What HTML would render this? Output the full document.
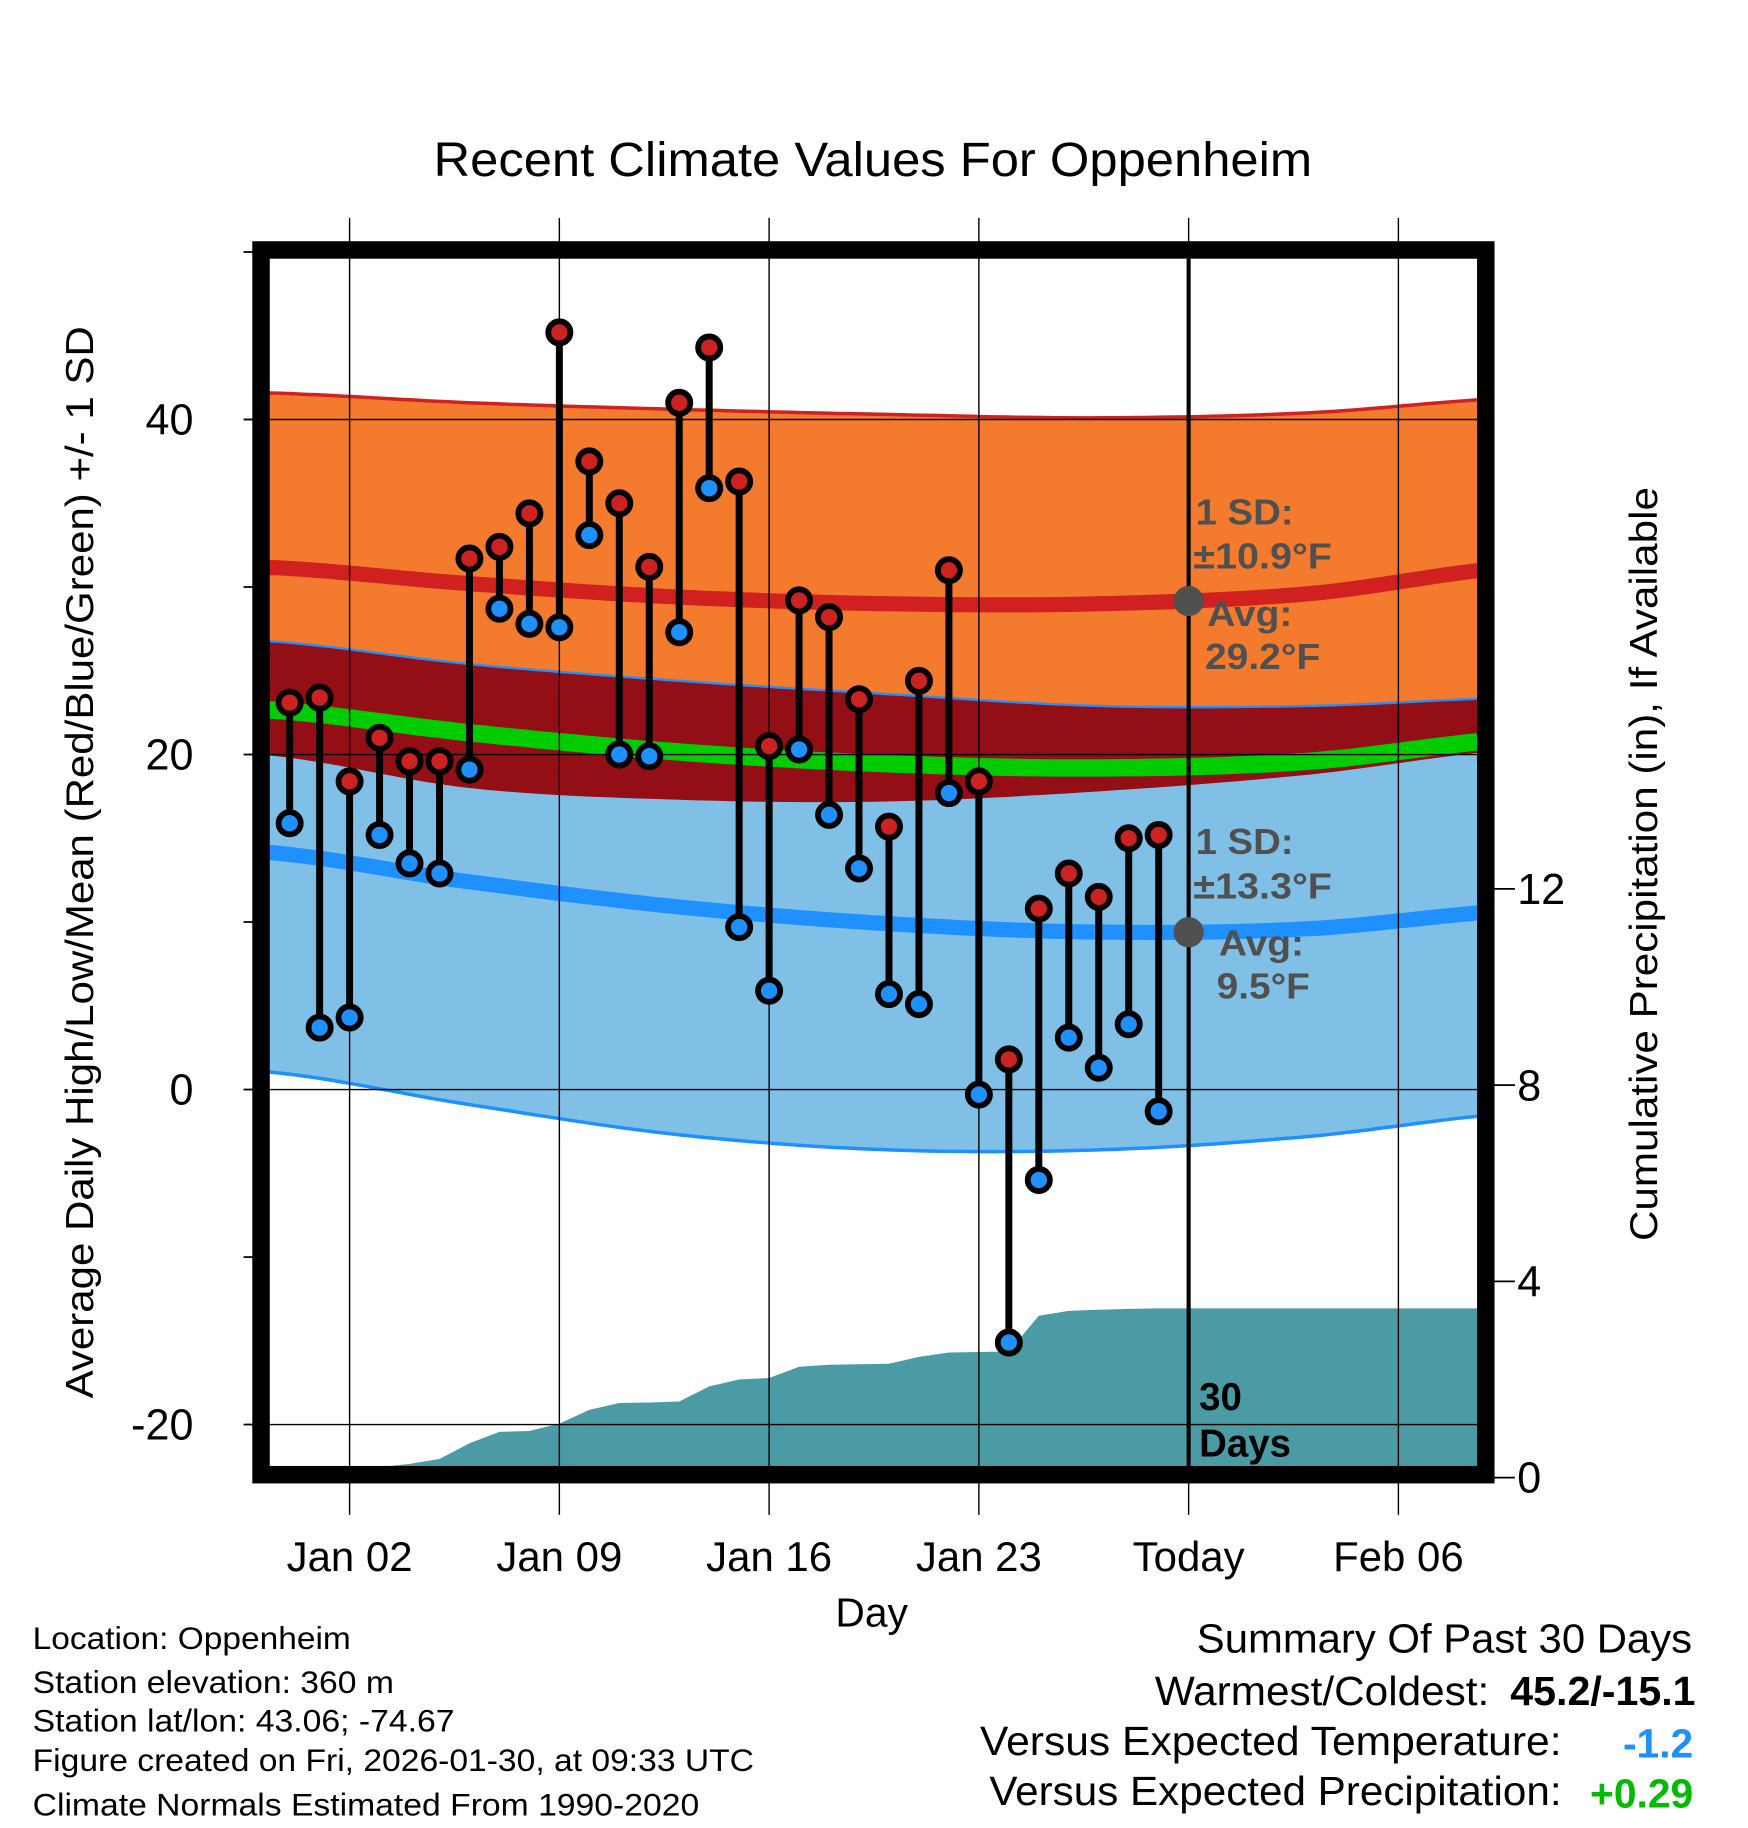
<!DOCTYPE html>
<html><head><meta charset="utf-8"><title>Recent Climate Values For Oppenheim</title>
<style>html,body{margin:0;padding:0;background:#fff}svg{display:block}text{font-family:"Liberation Sans",Arial,sans-serif}</style>
</head><body>
<svg id="chart" width="1748" height="1828" viewBox="0 0 1500 1568.7" preserveAspectRatio="none" xmlns="http://www.w3.org/2000/svg">
<rect width="1500" height="1568.7" fill="#fff"/>
<g id="bands"></g>
<g id="precip"></g>
<g id="grid"></g>
<g id="annot"></g>
<g id="series"></g>
<rect x="224" y="214.5" width="1051" height="1051" fill="none" stroke="#000" stroke-width="15"/>
<g id="axes"></g>
<text x="372" y="151" font-size="41" textLength="754" lengthAdjust="spacingAndGlyphs">Recent Climate Values For Oppenheim</text>
<text transform="translate(80,1200) rotate(-90)" font-size="33" textLength="920" lengthAdjust="spacingAndGlyphs">Average Daily High/Low/Mean (Red/Blue/Green) +/- 1 SD</text>
<text transform="translate(1422,1065) rotate(-90)" font-size="33" textLength="647" lengthAdjust="spacingAndGlyphs">Cumulative Precipitation (in), If Available</text>
<text x="748" y="1396" font-size="35" text-anchor="middle">Day</text>
<g font-size="27">
<text x="28" y="1415" textLength="273" lengthAdjust="spacingAndGlyphs">Location: Oppenheim</text>
<text x="28" y="1453" textLength="310" lengthAdjust="spacingAndGlyphs">Station elevation: 360 m</text>
<text x="28" y="1486" textLength="362" lengthAdjust="spacingAndGlyphs">Station lat/lon: 43.06; -74.67</text>
<text x="28" y="1520" textLength="619" lengthAdjust="spacingAndGlyphs">Figure created on Fri, 2026-01-30, at 09:33 UTC</text>
<text x="28" y="1558" textLength="572" lengthAdjust="spacingAndGlyphs">Climate Normals Estimated From 1990-2020</text>
</g>
<g font-size="35">
<text x="1027" y="1418" textLength="425" lengthAdjust="spacingAndGlyphs">Summary Of Past 30 Days</text>
<text x="991" y="1463" textLength="287" lengthAdjust="spacingAndGlyphs">Warmest/Coldest:</text>
<text x="1296" y="1463" font-weight="bold" textLength="159" lengthAdjust="spacingAndGlyphs">45.2/-15.1</text>
<text x="841" y="1506" textLength="499" lengthAdjust="spacingAndGlyphs">Versus Expected Temperature:</text>
<text x="1453" y="1508" font-weight="bold" fill="#1e90ff" text-anchor="end">-1.2</text>
<text x="849" y="1549" textLength="491" lengthAdjust="spacingAndGlyphs">Versus Expected Precipitation:</text>
<text x="1453" y="1551" font-weight="bold" fill="#00bb00" text-anchor="end">+0.29</text>
</g>
</svg>
<script>
// Days relative to Jan 01 (0). Observations start Dec 31 (-1).
const obsStartDay = -1;
const highs = [23.1,23.4,18.4,21.0,19.6,19.6,31.7,32.4,34.4,45.2,37.5,35.0,31.2,41.0,44.3,36.3,20.5,29.2,28.2,23.3,15.7,24.4,31.0,18.4,1.8,10.8,12.9,11.5,15.0,15.2];
const lows  = [15.9,3.7,4.3,15.2,13.5,12.9,19.1,28.7,27.8,27.6,33.1,20.0,19.9,27.3,35.9,9.7,5.9,20.3,16.4,13.2,5.7,5.1,17.7,-0.3,-15.1,-5.4,3.1,1.3,3.9,-1.3];
const precipCum = [0,0,0.05,0.15,0.28,0.38,0.7,0.93,0.95,1.1,1.38,1.52,1.53,1.55,1.86,2.0,2.03,2.26,2.3,2.31,2.32,2.46,2.55,2.56,2.57,3.3,3.4,3.42,3.44,3.45];
const normalDays = [-2,5,12,19,26,33,40];
const hiUpper = [41.6,41.0,40.6,40.3,40.1,40.4,41.3];
const hiMean  = [31.2,30.2,29.4,29.0,29.0,29.6,31.2];
const hiLower = [20.0,18.0,17.3,17.2,17.8,18.8,20.3];
const loUpper = [26.8,25.4,24.4,23.6,22.9,22.9,23.4];
const loMean  = [14.2,12.4,10.9,9.9,9.4,9.6,10.7];
const loLower = [1.1,-0.9,-2.7,-3.6,-3.6,-2.8,-1.4];
const yTicks = [40,20,0,-20];
const yMinorTicks = [50,30,10,-10];
const y2Ticks = [0,4,8,12];
const xTickDays = [1,8,15,22,29,36];
const xTickLabels = ["Jan 02","Jan 09","Jan 16","Jan 23","Today","Feb 06"];
const todayDay = 29;

const NS = "http://www.w3.org/2000/svg";
const L = 231, R = 1268, T = 222, B = 1259;
const xS = d => 300 + (d - 1) * 25.714;
const yS = v => 935 - v * 14.375;
const y2S = p => 1268 - p * 42.1;
const dMin = (L - 300) / 25.714 + 1, dMax = (R - 300) / 25.714 + 1;

function mk(tag, attrs, parent) {
  const e = document.createElementNS(NS, tag);
  for (const k in attrs) e.setAttribute(k, attrs[k]);
  parent.appendChild(e);
  return e;
}
function interp(arr, d) {
  let i = 0;
  while (i < normalDays.length - 2 && d > normalDays[i + 1]) i++;
  const t = (d - normalDays[i]) / (normalDays[i + 1] - normalDays[i]);
  const p0 = arr[Math.max(i - 1, 0)], p1 = arr[i], p2 = arr[i + 1], p3 = arr[Math.min(i + 2, arr.length - 1)];
  return 0.5 * ((2 * p1) + (-p0 + p2) * t + (2 * p0 - 5 * p1 + 4 * p2 - p3) * t * t + (-p0 + 3 * p1 - 3 * p2 + p3) * t * t * t);
}
function curve(fn) {
  const pts = [];
  for (let k = 0; k <= 100; k++) { const d = dMin + (dMax - dMin) * k / 100; pts.push([xS(d), yS(fn(d))]); }
  return pts;
}
const P = pts => pts.map(p => p[0].toFixed(1) + "," + p[1].toFixed(1)).join(" ");
function band(fU, fL, fill, name) {
  const up = curve(fU), lo = curve(fL).reverse();
  const e = mk("polygon", {points: P(up.concat(lo)), fill: fill}, document.getElementById("bands"));
  
  
}
function line(fn, stroke, w, name) {
  const e = mk("polyline", {points: P(curve(fn)), fill: "none", stroke: stroke, "stroke-width": w}, document.getElementById("bands"));
  
  
}
const fHU = d => interp(hiUpper, d), fHL = d => interp(hiLower, d), fHM = d => interp(hiMean, d);
const fLU = d => interp(loUpper, d), fLL = d => interp(loLower, d), fLM = d => interp(loMean, d);
band(fHU, fHL, "#f47a2e", "high-sd-band");
band(fLU, fLL, "#80c0e6", "low-sd-band");
band(d => Math.min(fHU(d), fLU(d)), d => Math.max(fHL(d), fLL(d)), "#930e15", "overlap-band");
line(d => (fHM(d) + fLM(d)) / 2, "#00cc00", 15, "mean-normal-line");
line(fHU, "#d02020", 3, "high-upper-line");
line(fLU, "#1e90ff", 2, "low-upper-line");
line(fLL, "#1e90ff", 3, "low-lower-line");
line(fHM, "#d02020", 13, "high-mean-line");
line(fLM, "#1e90ff", 13, "low-mean-line");

(function () {
  const g = document.getElementById("precip");
  const pts = [[L, B]];
  precipCum.forEach((p, i) => pts.push([xS(obsStartDay + i), Math.min(B, y2S(p))]));
  pts.push([R, Math.min(B, y2S(precipCum[precipCum.length - 1]))]);
  pts.push([R, B]);
  const e = mk("polygon", {points: P(pts), fill: "#4a9ba4"}, g);
  
  
})();

(function () {
  const g = document.getElementById("grid");
  xTickDays.forEach(d => {
    const e = mk("line", {x1: xS(d), x2: xS(d), y1: 187, y2: 1300, stroke: "#000", "stroke-width": 1.2}, g);
    
    
  });
  yTicks.forEach(v => {
    const e = mk("line", {x1: 210, x2: R, y1: yS(v), y2: yS(v), stroke: "#000", "stroke-width": 1.2}, g);
    
    
  });
  const t = mk("line", {x1: xS(todayDay), x2: xS(todayDay), y1: T, y2: B, stroke: "#000", "stroke-width": 3.5}, g);
  
  
})();

(function () {
  const g = document.getElementById("annot");
  const xt = xS(todayDay);
  const items = [
    ["1 SD:", 1026, 450, 84], ["\u00b110.9\u00b0F", 1024, 488, 119], ["Avg:", 1036, 537, 73], ["29.2\u00b0F", 1034, 574, 99],
    ["1 SD:", 1026, 733, 84], ["\u00b113.3\u00b0F", 1024, 771, 119], ["Avg:", 1046, 820, 73], ["9.5\u00b0F", 1044, 857, 80]];
  [[fHM, "high-avg-dot"], [fLM, "low-avg-dot"]].forEach(([f, n]) => {
    const c = mk("circle", {cx: xt, cy: yS(f(todayDay)), r: 13, fill: "#505050"}, g);
    
    
  });
  items.forEach(([s, x, y, w]) => {
    const e = mk("text", {x: x, y: y, "font-size": 31, "font-weight": "bold", fill: "#505050", textLength: w, lengthAdjust: "spacingAndGlyphs"}, g);
    e.textContent = s;
    
    
  });
  [["30", 1210], ["Days", 1250]].forEach(([s, y]) => {
    const e = mk("text", {x: 1029, y: y, "font-size": 33, "font-weight": "bold", fill: "#000"}, g);
    e.textContent = s;
    
    
  });
})();

(function () {
  const g = document.getElementById("series");
  highs.forEach((h, i) => {
    const x = xS(obsStartDay + i);
    const l = mk("line", {x1: x, x2: x, y1: yS(h), y2: yS(lows[i]), stroke: "#000", "stroke-width": 6}, g);
    
    
  });
  highs.forEach((h, i) => {
    const x = xS(obsStartDay + i);
    const a = mk("circle", {cx: x, cy: yS(h), r: 9.5, fill: "#cc2222", stroke: "#000", "stroke-width": 5}, g);
    
    
    const b = mk("circle", {cx: x, cy: yS(lows[i]), r: 9.5, fill: "#1e90ff", stroke: "#000", "stroke-width": 5}, g);
    
    
  });
})();

(function () {
  const g = document.getElementById("axes");
  yTicks.concat(yMinorTicks).forEach(v => {
    const e = mk("line", {x1: 209, x2: 218, y1: yS(v), y2: yS(v), stroke: "#000", "stroke-width": 1.5}, g);
    
    
  });
  yTicks.forEach(v => {
    const e = mk("text", {x: 166, y: yS(v) + 13, "font-size": 37, "text-anchor": "end"}, g);
    e.textContent = String(v);
    
    
  });
  y2Ticks.forEach(p => {
    const t = mk("line", {x1: 1282, x2: 1300, y1: y2S(p), y2: y2S(p), stroke: "#000", "stroke-width": 1.5}, g);
    
    
    const e = mk("text", {x: 1302, y: y2S(p) + 13, "font-size": 37}, g);
    e.textContent = String(p);
    
    
  });
  xTickDays.forEach((d, i) => {
    const e = mk("text", {x: xS(d), y: 1348, "font-size": 36, "text-anchor": "middle"}, g);
    e.textContent = xTickLabels[i];
    
    
  });
})();
</script>
</body></html>
